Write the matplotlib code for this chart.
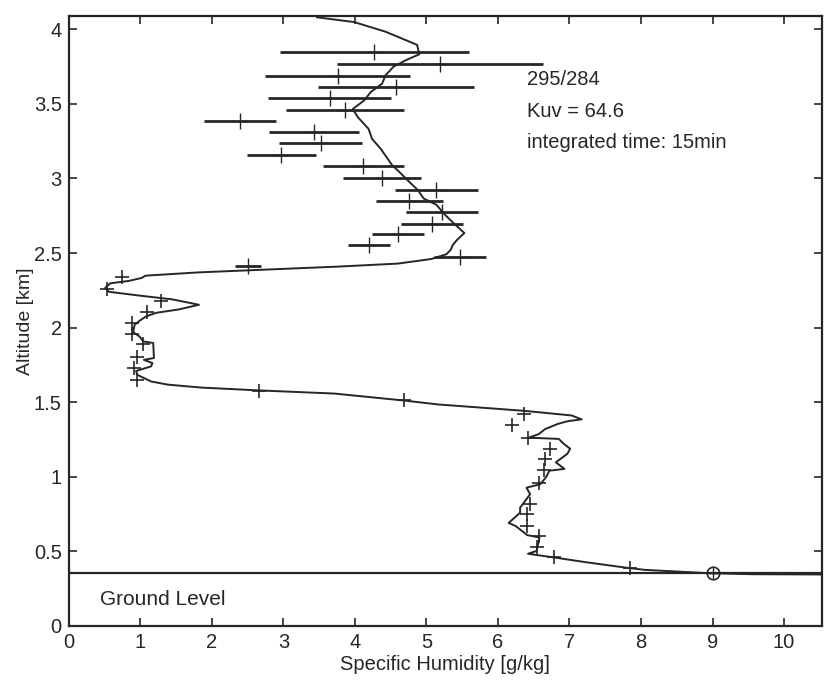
import numpy as np
import matplotlib
matplotlib.use('Agg')
import matplotlib.pyplot as plt

plt.rcParams['font.family'] = ['Liberation Sans', 'DejaVu Sans']

# retrieved profile (specific humidity g/kg vs altitude km)
prof_q = [3.47, 3.99, 4.43, 4.87, 4.90, 4.72, 4.54, 4.43, 4.38, 4.22, 4.13, 3.97, 4.04, 4.19,
          4.24, 4.36, 4.52, 4.62, 4.76, 4.88, 4.96, 5.14, 5.26, 5.38, 5.53, 5.43, 5.37, 5.34,
          5.28, 5.07, 4.60, 3.77, 1.81, 1.07, 1.02, 0.84, 0.58, 0.51, 0.56, 0.98, 1.45, 1.82,
          1.54, 1.22, 1.08, 0.99, 0.92, 0.90, 0.99, 1.04, 1.18, 1.19, 1.05, 1.17, 1.15, 0.94,
          0.96, 1.15, 1.38, 1.85, 2.66, 3.71, 4.69, 5.16, 6.37, 7.03, 7.17, 6.98, 6.84, 6.66,
          6.57, 6.43, 6.85, 6.92, 7.01, 6.97, 6.81, 6.93, 6.72, 6.67, 6.59, 6.40, 6.45, 6.38,
          6.31, 6.31, 6.15, 6.25, 6.41, 6.58, 6.54, 6.42, 6.79, 7.22, 7.85, 8.06, 8.94, 9.55,
          10.61]
prof_z = [4.08, 4.048, 3.983, 3.895, 3.832, 3.794, 3.749, 3.692, 3.635, 3.578, 3.523, 3.465,
          3.411, 3.333, 3.265, 3.199, 3.089, 3.044, 2.977, 2.922, 2.866, 2.823, 2.756, 2.700,
          2.634, 2.589, 2.555, 2.522, 2.492, 2.460, 2.429, 2.409, 2.370, 2.348, 2.333, 2.313,
          2.297, 2.267, 2.240, 2.215, 2.189, 2.153, 2.122, 2.099, 2.075, 2.046, 2.019, 1.969,
          1.940, 1.907, 1.897, 1.796, 1.784, 1.762, 1.740, 1.709, 1.683, 1.639, 1.618, 1.598,
          1.579, 1.558, 1.511, 1.485, 1.442, 1.411, 1.385, 1.373, 1.355, 1.320, 1.286, 1.262,
          1.254, 1.221, 1.188, 1.154, 1.097, 1.053, 1.041, 0.995, 0.950, 0.927, 0.883, 0.838,
          0.793, 0.759, 0.691, 0.669, 0.609, 0.593, 0.503, 0.484, 0.459, 0.428, 0.387, 0.376,
          0.354, 0.347, 0.345]

# lidar points with horizontal error bars
err_q = [4.27, 5.19, 3.76, 4.57, 3.65, 3.86, 2.39, 3.43, 3.52, 2.97, 4.12, 4.38, 5.14, 4.76,
         5.22, 5.08, 4.60, 4.20, 5.47, 2.51]
err_z = [3.845, 3.767, 3.689, 3.613, 3.541, 3.461, 3.386, 3.313, 3.236, 3.156, 3.080, 3.003,
         2.923, 2.850, 2.774, 2.697, 2.626, 2.552, 2.476, 2.412]
err_dq = [1.32, 1.44, 1.01, 1.09, 0.86, 0.83, 0.50, 0.63, 0.58, 0.48, 0.56, 0.54, 0.58, 0.47,
          0.50, 0.43, 0.36, 0.29, 0.36, 0.18]

# lidar points below 2.4 km (error bars too small to see)
pt_q = [0.74, 0.53, 1.29, 1.09, 0.89, 0.89, 1.04, 0.96, 0.91, 0.96, 2.66, 4.69, 6.37, 6.19,
        6.42, 6.73, 6.66, 6.64, 6.58, 6.45, 6.40, 6.40, 6.58, 6.54, 6.79, 7.85]
pt_z = [2.338, 2.256, 2.181, 2.102, 2.034, 1.956, 1.891, 1.806, 1.728, 1.650, 1.576, 1.512,
        1.419, 1.345, 1.262, 1.187, 1.119, 1.045, 0.961, 0.815, 0.748, 0.670, 0.604, 0.532,
        0.459, 0.387]

ground_z = 0.352
surface_q = 9.0

ink = '#262626'

fig = plt.figure(figsize=(8.24, 6.81), dpi=100)
ax = fig.add_axes([0.0835, 0.0808, 0.914, 0.896])

ax.plot(prof_q, prof_z, color=ink, lw=1.4)
ax.errorbar(err_q, err_z, xerr=err_dq, fmt='+', color=ink, ms=11, mew=1.0,
            elinewidth=2.0, capsize=0)
ax.plot(pt_q, pt_z, '+', color=ink, ms=10, mew=1.2)
ax.axhline(ground_z, color=ink, lw=1.6)
ax.plot([surface_q], [ground_z], 'o', mfc='none', mec=ink, ms=9, mew=1.2)
ax.plot([surface_q], [ground_z], '+', color=ink, ms=9, mew=1.0)

ax.text(0.44, 0.18, 'Ground Level', fontsize=15, color=ink, va='center')
ax.text(6.41, 3.66, '295/284', fontsize=14.5, color=ink, va='center')
ax.text(6.41, 3.45, 'Kuv = 64.6', fontsize=14.5, color=ink, va='center')
ax.text(6.41, 3.24, 'integrated time: 15min', fontsize=14.5, color=ink, va='center')

ax.set_xlim(0, 10.53)
ax.set_ylim(0, 4.09)
ax.set_xticks(range(0, 11))
ax.set_yticks([0, 0.5, 1, 1.5, 2, 2.5, 3, 3.5, 4])
ax.set_yticklabels(['0', '0.5', '1', '1.5', '2', '2.5', '3', '3.5', '4'])
ax.tick_params(direction='in', length=6, width=1.2, top=True, right=True,
               labelsize=14.5, colors=ink, pad=5)
for s in ax.spines.values():
    s.set_linewidth(1.6)
    s.set_color(ink)

ax.set_xlabel('Specific Humidity [g/kg]', fontsize=14.5, color=ink, labelpad=2)
ax.set_ylabel('Altitude [km]', fontsize=14, color=ink, labelpad=0)

fig.savefig('out.png', dpi=100)
